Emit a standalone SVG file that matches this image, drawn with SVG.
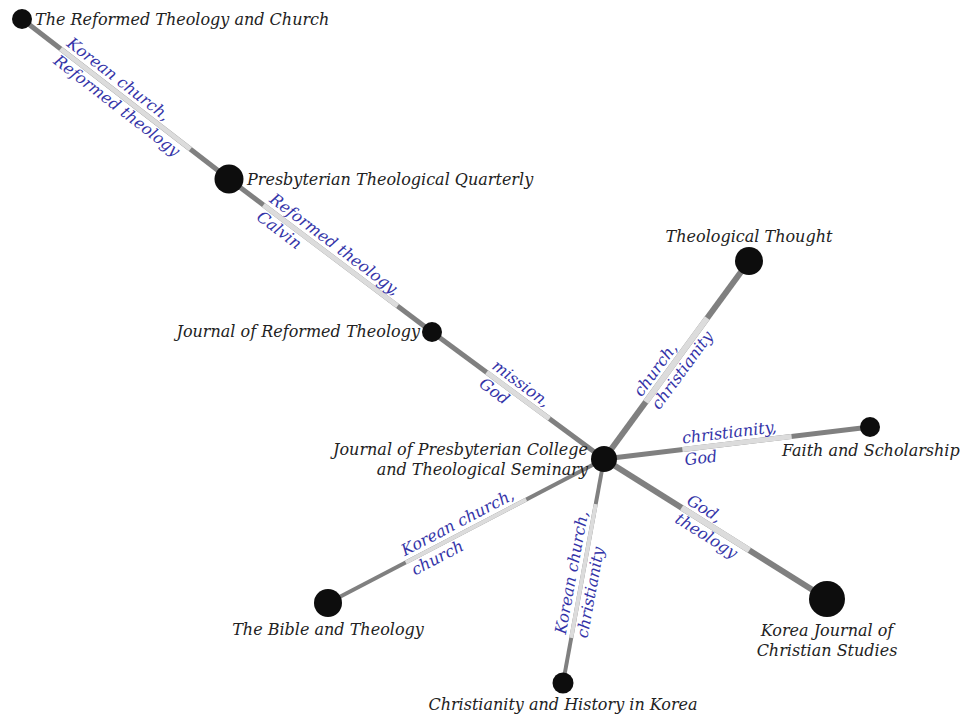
<svg xmlns="http://www.w3.org/2000/svg" width="960" height="718" viewBox="0 0 960 718">
<style>
.e{stroke:#808080;stroke-linecap:butt}
.l{stroke:#dcdcdc}
.n{fill:#0d0d0d}
.t{font-family:"DejaVu Serif","Liberation Serif",serif;font-style:italic;font-size:16px;fill:#222}
.k{font-family:"DejaVu Serif","Liberation Serif",serif;font-style:italic;font-size:16px;fill:#3434a8}
</style>
<rect width="960" height="718" fill="#fff"/>
<g id="connectors">
<line class="e" x1="22" y1="19" x2="229" y2="179" stroke-width="5"/>
<line class="e" x1="229" y1="179" x2="432" y2="332" stroke-width="5"/>
<line class="e" x1="432" y1="332" x2="604" y2="459" stroke-width="5"/>
<line class="e" x1="604" y1="459" x2="749" y2="261" stroke-width="6"/>
<line class="e" x1="604" y1="459" x2="870" y2="427" stroke-width="5"/>
<line class="e" x1="604" y1="459" x2="827" y2="599" stroke-width="6"/>
<line class="e" x1="328" y1="603" x2="604" y2="459" stroke-width="4"/>
<line class="e" x1="563" y1="683" x2="604" y2="459" stroke-width="4"/>
<g transform="translate(125.5,99) rotate(37.7)"><line class="l" x1="-82" y1="0" x2="82" y2="0" stroke-width="5"/><text class="k" x="-80" y="-6">Korean church,</text><text class="k" x="-80" y="16">Reformed theology</text></g>
<g transform="translate(330.5,255.5) rotate(37)"><line class="l" x1="-84" y1="0" x2="84" y2="0" stroke-width="5"/><text class="k" x="-82" y="-6">Reformed theology,</text><text class="k" x="-82" y="16">Calvin</text></g>
<g transform="translate(518,395.5) rotate(36.4)"><line class="l" x1="-39" y1="0" x2="39" y2="0" stroke-width="5"/><text class="k" x="-38" y="-6">mission,</text><text class="k" x="-38" y="16">God</text></g>
<g transform="translate(676.5,360) rotate(-53.8)"><line class="l" x1="-52" y1="0" x2="52" y2="0" stroke-width="6"/><text class="k" x="-51" y="-6">church,</text><text class="k" x="-51" y="16">christianity</text></g>
<g transform="translate(737,443) rotate(-6.86)"><line class="l" x1="-55" y1="0" x2="55" y2="0" stroke-width="5"/><text class="k" x="-54" y="-6">christianity,</text><text class="k" x="-54" y="16">God</text></g>
<g transform="translate(715.5,529) rotate(32.1)"><line class="l" x1="-40" y1="0" x2="40" y2="0" stroke-width="6"/><text class="k" x="-39" y="-6">God,</text><text class="k" x="-39" y="16">theology</text></g>
<g transform="translate(466,531) rotate(-27.55)"><line class="l" x1="-68" y1="0" x2="68" y2="0" stroke-width="4"/><text class="k" x="-66" y="-6">Korean church,</text><text class="k" x="-66" y="16">church</text></g>
<g transform="translate(583.5,571) rotate(-79.6)"><line class="l" x1="-68" y1="0" x2="68" y2="0" stroke-width="4"/><text class="k" x="-66" y="-6">Korean church,</text><text class="k" x="-66" y="16">christianity</text></g>
</g>
<g id="n-reformed-theology-church"><circle class="n" cx="22" cy="19" r="10"/><text class="t" x="35" y="25">The Reformed Theology and Church</text></g>
<g id="n-presbyterian-theological-quarterly"><circle class="n" cx="229" cy="179" r="14.5"/><text class="t" x="247" y="185">Presbyterian Theological Quarterly</text></g>
<g id="n-journal-reformed-theology"><circle class="n" cx="432" cy="332" r="10"/><text class="t" x="420" y="337" text-anchor="end">Journal of Reformed Theology</text></g>
<g id="n-jpcts"><circle class="n" cx="604" cy="459" r="13"/><text class="t" x="588" y="455" text-anchor="end">Journal of Presbyterian College</text><text class="t" x="588" y="475" text-anchor="end">and Theological Seminary</text></g>
<g id="n-theological-thought"><circle class="n" cx="749" cy="261" r="14"/><text class="t" x="749" y="242" text-anchor="middle">Theological Thought</text></g>
<g id="n-faith-scholarship"><circle class="n" cx="870" cy="427" r="10"/><text class="t" x="782" y="456">Faith and Scholarship</text></g>
<g id="n-kjcs"><circle class="n" cx="827" cy="599" r="18"/><text class="t" x="827" y="636" text-anchor="middle">Korea Journal of</text><text class="t" x="827" y="656" text-anchor="middle">Christian Studies</text></g>
<g id="n-bible-theology"><circle class="n" cx="328" cy="603" r="14"/><text class="t" x="328" y="635" text-anchor="middle">The Bible and Theology</text></g>
<g id="n-christianity-history-korea"><circle class="n" cx="563" cy="683" r="10.5"/><text class="t" x="563" y="710" text-anchor="middle">Christianity and History in Korea</text></g>
</svg>
